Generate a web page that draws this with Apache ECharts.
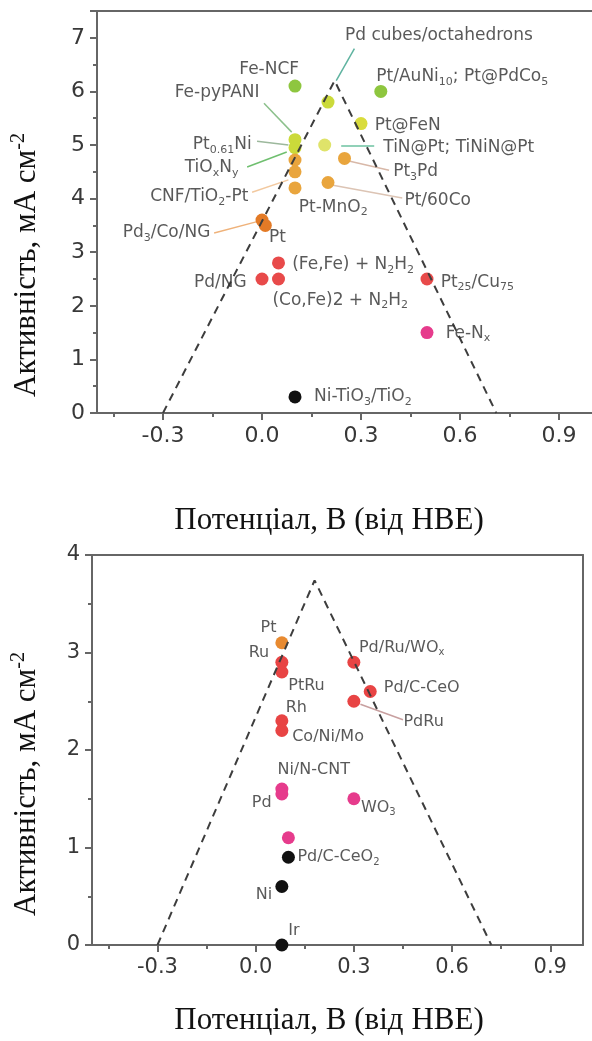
<!DOCTYPE html>
<html>
<head>
<meta charset="utf-8">
<script src="https://cdn.jsdelivr.net/npm/echarts@6/dist/echarts.min.js"></script>
<style>
  html, body { margin: 0; padding: 0; background: #fff; }
  #chart { width: 592px; height: 1041px; }
</style>
</head>
<body>
<div id="chart"></div>
<script>
// shared x ticks (potential, V vs RHE)
const xLabelTicks = [-0.3, 0, 0.3, 0.6, 0.9];
const xMinorTicks = [-0.45, -0.15, 0.15, 0.45, 0.75];

// upper panel points, grouped by marker colour
const topGreen = [[0.10, 6.1], [0.36, 6.0]];
const topLime = [[0.20, 5.8], [0.10, 5.1], [0.10, 4.95]];
const topYellow = [[0.30, 5.4]];
const topPale = [[0.19, 5.0]];
const topOrange = [[0.10, 4.72], [0.10, 4.5], [0.10, 4.2], [0.25, 4.75], [0.20, 4.3]];
const topDarkOrange = [[0.0, 3.6], [0.01, 3.5]];
const topRed = [[0.05, 2.8], [0.0, 2.5], [0.05, 2.5], [0.50, 2.5]];
const topMagenta = [[0.50, 1.5]];
const topBlack = [[0.10, 0.3]];
const topVolcano = [[-0.3, 0], [0.22, 6.2], [0.71, 0]];

// label text, anchor x, anchor y, which side of the anchor the text sits
const topLabels = [
  ['Pd cubes/octahedrons', 0.25, 7.05, 'right'],
  ['Pt/AuNi{s|10}; Pt@PdCo{s|5}', 0.345, 6.27, 'right'],
  ['Fe-NCF', 0.114, 6.4, 'left'],
  ['Fe-pyPANI', -0.006, 5.97, 'left'],
  ['Pt{s|0.61}Ni', -0.03, 5.0, 'left'],
  ['TiO{s|x}N{s|y}', -0.07, 4.57, 'left'],
  ['CNF/TiO{s|2}-Pt', -0.04, 4.03, 'left'],
  ['Pd{s|3}/Co/NG', -0.155, 3.36, 'left'],
  ['Pt', 0.02, 3.28, 'right'],
  ['Pt-MnO{s|2}', 0.11, 3.84, 'right'],
  ['Pt@FeN', 0.34, 5.37, 'right'],
  ['TiN@Pt; TiNiN@Pt', 0.366, 4.96, 'right'],
  ['Pt{s|3}Pd', 0.396, 4.5, 'right'],
  ['Pt/60Co', 0.43, 3.97, 'right'],
  ['(Fe,Fe) + N{s|2}H{s|2}', 0.09, 2.76, 'right'],
  ['(Co,Fe)2 + N{s|2}H{s|2}', 0.03, 2.1, 'right'],
  ['Pd/NG', -0.045, 2.44, 'left'],
  ['Pt{s|25}/Cu{s|75}', 0.54, 2.44, 'right'],
  ['Fe-N{s|x}', 0.555, 1.49, 'right'],
  ['Ni-TiO{s|3}/TiO{s|2}', 0.156, 0.3, 'right']
];
const topLeaders = [
  [[0.28, 6.8], [0.225, 6.2]],
  [[0.006, 5.78], [0.09, 5.24]],
  [[-0.015, 5.07], [0.08, 5.0]],
  [[-0.045, 4.59], [0.075, 4.87]],
  [[-0.03, 4.12], [0.08, 4.35]],
  [[-0.145, 3.36], [-0.015, 3.57]],
  [[0.24, 4.98], [0.34, 4.98]],
  [[0.25, 4.72], [0.385, 4.53]],
  [[0.215, 4.25], [0.425, 4.01]]
];
const topLeaderColors = ['#5fb3a0', '#8cc08c', '#9cb89c', '#6fbf6f', '#f2c9a0', '#efb27a', '#6cc2a0', '#d8b8a8', '#dcc4b4'];

// lower panel points
const bottomOrange = [[0.08, 3.1]];
const bottomRed = [[0.08, 2.9], [0.08, 2.8], [0.08, 2.3], [0.08, 2.2], [0.30, 2.9], [0.35, 2.6], [0.30, 2.5]];
const bottomMagenta = [[0.08, 1.6], [0.08, 1.55], [0.10, 1.1], [0.30, 1.5]];
const bottomBlack = [[0.10, 0.9], [0.08, 0.6], [0.08, 0.0]];
const bottomVolcano = [[-0.3, 0], [0.18, 3.74], [0.72, 0]];

const bottomLabels = [
  ['Pt', 0.065, 3.25, 'left'],
  ['Ru', 0.043, 3.0, 'left'],
  ['PtRu', 0.098, 2.66, 'right'],
  ['Rh', 0.09, 2.43, 'right'],
  ['Co/Ni/Mo', 0.11, 2.13, 'right'],
  ['Ni/N-CNT', 0.065, 1.8, 'right'],
  ['Pd', 0.05, 1.46, 'left'],
  ['Pd/C-CeO{s|2}', 0.126, 0.9, 'right'],
  ['Ni', 0.052, 0.51, 'left'],
  ['Ir', 0.098, 0.15, 'right'],
  ['Pd/Ru/WO{s|x}', 0.314, 3.05, 'right'],
  ['Pd/C-CeO', 0.39, 2.64, 'right'],
  ['PdRu', 0.45, 2.29, 'right'],
  ['WO{s|3}', 0.32, 1.41, 'right']
];
const bottomLeaders = [[[0.32, 2.47], [0.45, 2.31]]];
const bottomLeaderColors = ['#c8a0a0'];

const xTitle = 'Потенціал, В (від НВЕ)';
const yTitle = 'Активність, мА см{sup|-2}';

const axisColor = '#666';
const tickFont = 'DejaVu Sans';
const labelColor = '#2f2f2f';
const axisLineStyle = { color: axisColor, width: 2 };

function xAxesFor(gi, fs) {
  const base = { type: 'value', gridIndex: gi, min: -0.5, max: 1.0, splitLine: { show: false } };
  return [
    {
      ...base,
      position: 'bottom',
      axisLine: { show: true, onZero: false, lineStyle: axisLineStyle },
      axisTick: { show: true, customValues: xLabelTicks, length: 7, lineStyle: axisLineStyle },
      axisLabel: {
        customValues: xLabelTicks, color: '#383838', fontFamily: tickFont, fontSize: fs, margin: 12,
        formatter: (v) => v.toFixed(1)
      }
    },
    {
      ...base,
      position: 'bottom',
      axisLine: { show: false, onZero: false },
      axisTick: { show: true, customValues: xMinorTicks, length: 4, lineStyle: axisLineStyle },
      axisLabel: { show: false }
    },
    {
      ...base,
      position: 'top',
      axisLine: { show: true, onZero: false, lineStyle: axisLineStyle },
      axisTick: { show: false },
      axisLabel: { show: false }
    }
  ];
}

function yAxisFor(gi, max, fs) {
  return {
    type: 'value', gridIndex: gi, min: 0, max: max, interval: 1,
    axisLine: { show: true, onZero: false, lineStyle: axisLineStyle },
    axisTick: { show: true, length: 7, lineStyle: axisLineStyle },
    minorTick: { show: true, splitNumber: 2, length: 4, lineStyle: axisLineStyle },
    axisLabel: { color: '#383838', fontFamily: tickFont, fontSize: fs, margin: 12, showMaxLabel: max % 1 === 0 },
    splitLine: { show: false }
  };
}

function dots(data, color, xi, yi) {
  return {
    type: 'scatter', xAxisIndex: xi, yAxisIndex: yi, data, symbolSize: 13,
    itemStyle: { color, opacity: 1 }, z: 3, silent: true
  };
}

function volcano(data, xi, yi) {
  return {
    type: 'line', xAxisIndex: xi, yAxisIndex: yi, data, symbol: 'none', silent: true, z: 4,
    lineStyle: { color: '#3d3d3d', width: 2, type: [8, 6] }
  };
}

function leaders(list, colors, xi, yi) {
  return list.map((seg, i) => ({
    type: 'line', xAxisIndex: xi, yAxisIndex: yi, data: seg, symbol: 'none', silent: true, z: 2,
    lineStyle: { color: colors[i], width: 1.5 }
  }));
}

function labels(list, xi, yi, fs) {
  return {
    type: 'scatter', xAxisIndex: xi, yAxisIndex: yi, symbolSize: 1, silent: true, z: 6,
    itemStyle: { color: 'rgba(0,0,0,0)' },
    labelLayout: { hideOverlap: false },
    label: {
      show: true, color: labelColor, fontFamily: tickFont, fontSize: fs,
      rich: { s: { fontFamily: tickFont, fontSize: Math.round(fs * 0.65), color: labelColor, padding: [10, 0, 0, 0] } }
    },
    data: list.map(([text, x, y, side]) => ({
      value: [x, y],
      label: { show: true, position: side, distance: 0, formatter: text }
    }))
  };
}

const titleRich = {
  sup: { fontFamily: 'Liberation Serif', fontSize: 20, fill: '#111', padding: [0, 0, 16, 0] }
};

const chart = echarts.init(document.getElementById('chart'));
chart.setOption({
  animation: false,
  backgroundColor: '#fff',
  grid: [
    { left: 97, top: 11, width: 500, height: 402 },
    { left: 92, top: 555, width: 491, height: 390 }
  ],
  xAxis: [...xAxesFor(0, 22), ...xAxesFor(1, 21)],
  yAxis: [
    yAxisFor(0, 7.5, 22),
    yAxisFor(1, 4, 21),
    {
      type: 'value', gridIndex: 1, position: 'right', min: 0, max: 4,
      axisLine: { show: true, onZero: false, lineStyle: axisLineStyle },
      axisTick: { show: false }, axisLabel: { show: false }, splitLine: { show: false }
    }
  ],
  graphic: [
    { type: 'text', x: 329, y: 521, style: { text: xTitle, fontFamily: 'Liberation Serif', fontSize: 31, fill: '#111', align: 'center', verticalAlign: 'middle' } },
    { type: 'text', x: 329, y: 1021, style: { text: xTitle, fontFamily: 'Liberation Serif', fontSize: 31, fill: '#111', align: 'center', verticalAlign: 'middle' } },
    { type: 'text', x: 27, y: 265, rotation: Math.PI / 2, style: { text: yTitle, rich: titleRich, fontFamily: 'Liberation Serif', fontSize: 31, fill: '#111', align: 'center', verticalAlign: 'middle' } },
    { type: 'text', x: 27, y: 784, rotation: Math.PI / 2, style: { text: yTitle, rich: titleRich, fontFamily: 'Liberation Serif', fontSize: 31, fill: '#111', align: 'center', verticalAlign: 'middle' } }
  ],
  series: [
    ...leaders(topLeaders, topLeaderColors, 0, 0),
    dots(topGreen, '#8ec63f', 0, 0),
    dots(topLime, '#cbda3a', 0, 0),
    dots(topYellow, '#d9dc3c', 0, 0),
    dots(topPale, '#dfe36a', 0, 0),
    dots(topOrange, '#e9a53d', 0, 0),
    dots(topDarkOrange, '#e37a26', 0, 0),
    dots(topRed, '#e84a4a', 0, 0),
    dots(topMagenta, '#e63b8c', 0, 0),
    dots(topBlack, '#111', 0, 0),
    volcano(topVolcano, 0, 0),
    labels(topLabels, 0, 0, 17),

    ...leaders(bottomLeaders, bottomLeaderColors, 3, 1),
    dots(bottomOrange, '#e88a30', 3, 1),
    dots(bottomRed, '#e84444', 3, 1),
    dots(bottomMagenta, '#e63b8c', 3, 1),
    dots(bottomBlack, '#111', 3, 1),
    volcano(bottomVolcano, 3, 1),
    labels(bottomLabels, 3, 1, 16)
  ]
});
</script>
</body>
</html>
